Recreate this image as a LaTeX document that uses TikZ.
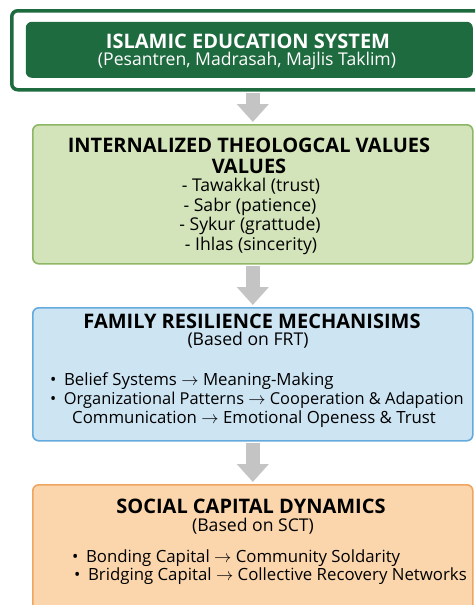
\documentclass[tikz,border=0pt]{standalone}
\usepackage{fontspec}
\setmainfont{Open Sans}
\usetikzlibrary{arrows.meta}
\definecolor{edugreen}{HTML}{1F6B40}
\definecolor{valfill}{HTML}{D4E4BA}
\definecolor{valline}{HTML}{8DB766}
\definecolor{famfill}{HTML}{CDE4F3}
\definecolor{famline}{HTML}{64AADC}
\definecolor{socfill}{HTML}{FBD6AD}
\definecolor{socline}{HTML}{EFA560}
\definecolor{flowgray}{HTML}{C4C4C4}
\newcommand{\bul}{\textbullet\hspace{7.5pt}}

\begin{document}
\begin{tikzpicture}[x=1pt,y=-1pt,
  box/.style={rectangle,rounded corners=6pt,line width=1.6pt,inner sep=0pt,
    anchor=north west,minimum width=440pt},
  ttl/.style={anchor=base,font=\bfseries\fontsize{20}{24}\selectfont},
  txt/.style={anchor=base,inner sep=0pt,text height=12.5pt,text depth=3.5pt,
    font=\fontsize{17.6}{21}\selectfont},
  lst/.style={anchor=base west,inner sep=0pt,text height=12pt,text depth=3.5pt,
    font=\fontsize{16.8}{20}\selectfont},
  flow/.style={draw=flowgray,line width=14pt,
    -{Triangle[width=31pt,length=18pt]},shorten >=2pt,shorten <=1.5pt}]
\clip (0,0) rectangle (475,605);

% boxes
\node[box,draw=edugreen,fill=white,line width=3.5pt,minimum width=490pt,
  minimum height=79pt] (edu) at (10,9) {};
\node[box,fill=edugreen,minimum width=447pt,minimum height=56pt] (eduin) at (25,21) {};
\node[box,draw=valline,fill=valfill,minimum height=139pt] (valu) at (32,124) {};
\node[box,draw=famline,fill=famfill,minimum height=133pt] (fam) at (32,307) {};
\node[box,draw=socline,fill=socfill,minimum height=160pt] (soc) at (32,484) {};

% arrows
\draw[flow] (edu.south -| valu.north) -- (valu.north);
\draw[flow] (valu.south) -- (fam.north);
\draw[flow] (fam.south) -- (soc.north);

% texts
\node[ttl,text=white] (edut) at (248,48) {ISLAMIC EDUCATION SYSTEM};
\node[txt,text=white] (edus) at (247,65) {(Pesantren, Madrasah, Majlis Taklim)};

\node[ttl] (valt) at (249,152) {INTERNALIZED THEOLOGCAL VALUES};
\node[ttl] (valt2) at (249,173) {VALUES};
\node[txt] (val1) at (251,191) {- Tawakkal (trust)};
\node[txt] (val2) at (250,211) {- Sabr (patience)};
\node[txt] (val3) at (250,230) {- Sykur (grattude)};
\node[txt] (val4) at (251,250) {- Ihlas (sincerity)};

\node[ttl] (famt) at (252,328) {FAMILY RESILIENCE MECHANISIMS};
\node[txt] (fams) at (248,345) {(Based on FRT)};
\node[lst] (fam1) at (50,385) {\bul Belief Systems $\rightarrow$ Meaning-Making};
\node[lst,font=\fontsize{16.4}{20}\selectfont] (fam2) at (50,404)
  {\bul Organizational Patterns $\rightarrow$ Cooperation \& Adapation};
\node[lst] (fam3) at (72,423) {Communication $\rightarrow$ Emotional Openess \& Trust};

\node[ttl] (soct) at (251,513) {SOCIAL CAPITAL DYNAMICS};
\node[txt] (socs) at (253,531) {(Based on SCT)};
\node[lst] (soc1) at (72,562) {\bul Bonding Capital $\rightarrow$ Community Soldarity};
\node[lst] (soc2) at (74,580) {\bul Bridging Capital $\rightarrow$ Collective Recovery Networks};
\end{tikzpicture}
\end{document}
